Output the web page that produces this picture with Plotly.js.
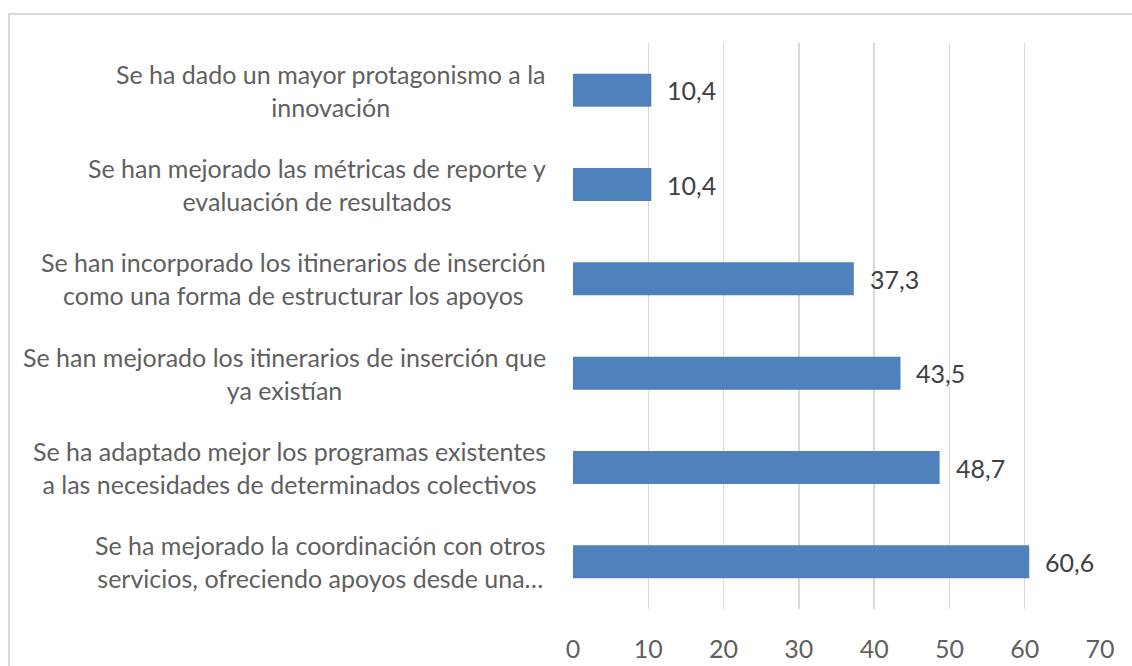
<!DOCTYPE html>
<html>
<head>
<meta charset="utf-8">
<script src="https://cdn.plot.ly/plotly-3.0.1.min.js"></script>
<style>
  html, body { margin: 0; padding: 0; background: #ffffff; }
  #frame { position: absolute; left: 8px; top: 13px; width: 1200px; height: 700px;
           border-left: 2px solid #d9d9d9; border-top: 2px solid #d9d9d9; box-sizing: border-box; }
  #chart { position: absolute; left: 0; top: 0; width: 1132px; height: 666px; }
</style>
</head>
<body>
<div id="frame"></div>
<div id="chart"></div>
<script>
const categories = [
  "Se ha dado un mayor protagonismo a la<br>innovación",
  "Se han mejorado las métricas de reporte y<br>evaluación de resultados",
  "Se han incorporado los itinerarios de inserción<br>como una forma de estructurar los apoyos",
  "Se han mejorado los itinerarios de inserción que<br>ya existían",
  "Se ha adaptado mejor los programas existentes<br>a las necesidades de determinados colectivos",
  "Se ha mejorado la coordinación con otros<br>servicios, ofreciendo apoyos desde una…"
];
const values = [10.4, 10.4, 37.3, 43.5, 48.7, 60.6];
const xTicks = [0, 10, 20, 30, 40, 50, 60, 70];

const FONT = "Lato, 'Open Sans', sans-serif";
const TXT = "#5f5f5f";
const FS = 25;

const catIds = categories.map((c, i) => "c" + i);

const trace = {
  type: "bar",
  orientation: "h",
  y: catIds,
  x: values,
  width: 0.35,
  marker: { color: "#4f81bd" },
  hoverinfo: "skip"
};

const annotations = [];
categories.forEach((c, i) => {
  annotations.push({
    xref: "paper", yref: "y", x: -0.0474, y: catIds[i],
    xanchor: "right", yanchor: "middle", align: "center",
    text: c, showarrow: false,
    font: { family: FONT, size: FS, color: TXT }
  });
  annotations.push({
    xref: "x", yref: "y", x: values[i], y: catIds[i],
    xanchor: "left", yanchor: "middle", xshift: 14,
    text: values[i].toFixed(1).replace(".", ","), showarrow: false,
    font: { family: FONT, size: FS, color: "#404040" }
  });
});

const layout = {
  width: 1132, height: 666,
  margin: { l: 573, r: 32, t: 43, b: 57, pad: 0 },
  paper_bgcolor: "rgba(0,0,0,0)",
  plot_bgcolor: "rgba(0,0,0,0)",
  showlegend: false,
  font: { family: FONT, size: FS, color: TXT },
  xaxis: {
    range: [0, 70],
    tickvals: xTicks,
    ticktext: xTicks.map(String),
    showgrid: true, gridcolor: "#d9d9d9", gridwidth: 1.5,
    zeroline: false, showline: false, ticks: "",
    ticklabelstandoff: 23,
    tickfont: { family: FONT, size: FS, color: TXT }
  },
  yaxis: {
    type: "category",
    autorange: "reversed",
    showticklabels: false,
    showgrid: false, zeroline: false, showline: false, ticks: ""
  },
  annotations: annotations
};

Plotly.newPlot("chart", [trace], layout, { displayModeBar: false, staticPlot: true });
</script>
</body>
</html>
